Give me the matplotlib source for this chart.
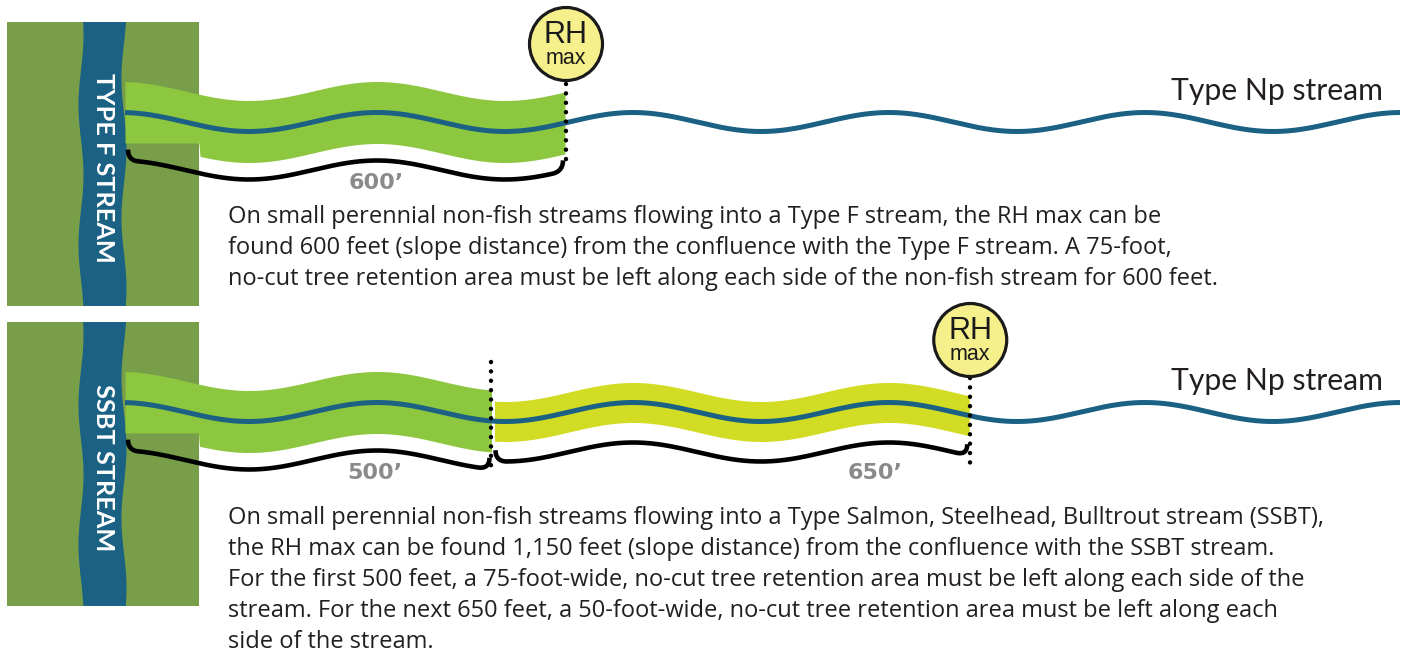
import numpy as np
import matplotlib.pyplot as plt
from matplotlib.patches import Circle, Polygon

# segment lengths in feet along the Np stream, per panel
seg_feet_f = [600]
seg_feet_ssbt = [500, 650]
seg_labels_f = ["600’"]
seg_labels_ssbt = ["500’", "650’"]
seg_colors_f = ["#8dc63f"]
seg_colors_ssbt = ["#8dc63f", "#d3dc24"]
seg_halfwidth_f = [31]
seg_halfwidth_ssbt = [31, 20]
# where the length label sits along each segment (fraction of its length)
label_frac_f = [0.57]
label_frac_ssbt = [0.68, 0.80]

side_labels = ["TYPE F STREAM", "SSBT STREAM"]
np_label = "Type Np stream"

para_f = [
    "On small perennial non-fish streams flowing into a Type F stream, the RH max can be",
    "found 600 feet (slope distance) from the confluence with the Type F stream. A 75-foot,",
    "no-cut tree retention area must be left along each side of the non-fish stream for 600 feet.",
]
para_ssbt = [
    "On small perennial non-fish streams flowing into a Type Salmon, Steelhead, Bulltrout stream (SSBT),",
    "the RH max can be found 1,150 feet (slope distance) from the confluence with the SSBT stream.",
    "For the first 500 feet, a 75-foot-wide, no-cut tree retention area must be left along each side of the",
    "stream. For the next 650 feet, a 50-foot-wide, no-cut tree retention area must be left along each",
    "side of the stream.",
]

BOX_GREEN = "#789e4a"
BLUE = "#1a6184"
X0 = 125          # confluence (pixel x)
PX_PER_FT = 0.735
WL, AMP, PHASE = 256, 9.5, 121


def wave(x, c):
    return c - AMP * np.cos(2 * np.pi * (x - PHASE) / WL)


def brace(ax, xa, xb, c, off, hook=11):
    # quadratic bezier hooks at both ends, wave in between
    t = np.linspace(0, 1, 20)
    xs_l = (1 - t) ** 2 * xa + 2 * t * (1 - t) * xa + t ** 2 * (xa + 11)
    ys_l = (1 - t) ** 2 * (wave(xa, c) + off - hook) + 2 * t * (1 - t) * (wave(xa, c) + off) + t ** 2 * (wave(xa + 11, c) + off)
    xm = np.linspace(xa + 11, xb - 11, 200)
    ym = wave(xm, c) + off
    xs_r = (1 - t) ** 2 * (xb - 11) + 2 * t * (1 - t) * xb + t ** 2 * xb
    ys_r = (1 - t) ** 2 * (wave(xb - 11, c) + off) + 2 * t * (1 - t) * (wave(xb, c) + off) + t ** 2 * (wave(xb, c) + off - hook)
    xs = np.concatenate([xs_l, xm, xs_r])
    ys = np.concatenate([ys_l, ym, ys_r])
    ax.plot(xs, ys, color="black", lw=3.3, solid_capstyle="butt", zorder=4)


def rh_circle(ax, x, y):
    ax.add_patch(Circle((x, y), 36.5, facecolor="#f6f08c", edgecolor="#1a1a1a", lw=2.3, zorder=6))
    ax.text(x, y - 9, "RH", ha="center", va="center", fontsize=22, family="Liberation Sans",
            color="#1a1a1a", zorder=7)
    ax.text(x, y + 15, "max", ha="center", va="center", fontsize=15.5, family="Liberation Sans",
            color="#1a1a1a", zorder=7)


def dotted(ax, x, y1, y2):
    ax.plot([x, x], [y1, y2], color="black", lw=3.2, linestyle=(0, (0.01, 2.1)),
            dash_capstyle="round", zorder=5)


def panel(ax, dy, feet, colors, halfw, labels, fracs, side_label, para, box_dy):
    c = 122 + dy
    # bank box and receiving stream
    ax.add_patch(Polygon([(7, 22 + box_dy), (199, 22 + box_dy), (199, 306 + box_dy), (7, 306 + box_dy)],
                         closed=True, facecolor=BOX_GREEN, edgecolor="none", zorder=1))
    yy = np.linspace(22 + box_dy, 306 + box_dy, 120)
    left = 81 + 2.5 * np.sin(2 * np.pi * (yy - box_dy) / 140)
    right = 124 + 2.5 * np.sin(2 * np.pi * (yy - box_dy) / 140 + 1.2)
    ax.add_patch(Polygon(np.column_stack([np.concatenate([left, right[::-1]]),
                                          np.concatenate([yy, yy[::-1]])]),
                         closed=True, facecolor=BLUE, edgecolor="none", zorder=2))
    ax.text(103, 168 + box_dy, side_label, rotation=-90, ha="center", va="center",
            fontsize=18.3, fontweight="bold", family="Lato", color="white", zorder=3)

    # buffer segments
    bounds = X0 + PX_PER_FT * np.concatenate([[0], np.cumsum(feet)])
    for i in range(len(feet)):
        xa, xb = bounds[i], bounds[i + 1]
        xs = np.linspace(xa + (2 if i else 0), xb - 1, 400)
        ys = wave(xs, c)
        lower = ys + halfw[i]
        # lower edge is hidden by the bank box
        lower = np.where(xs < 199, np.minimum(lower, c + 21), lower)
        ax.fill_between(xs, ys - halfw[i], lower, color=colors[i], lw=0, zorder=3)
        off = 48 if halfw[i] > 25 else 40
        brace(ax, xa + 3, xb - 3, c, off)
        ax.text(xa + fracs[i] * (xb - xa), c + 67, labels[i], ha="center", va="baseline",
                fontsize=16, fontweight="bold", family="DejaVu Sans", color="#8a8a8a", zorder=5)

    # Np stream centre line
    xl = np.linspace(X0, 1400, 800)
    ax.plot(xl, wave(xl, c), color=BLUE, lw=3.6, solid_capstyle="butt", zorder=4.5)
    ax.text(1383, c - 22, np_label, ha="right", va="baseline", fontsize=21.7, family="Lato",
            color="#231f20", zorder=5)

    # RH max marker and dividers
    for b in bounds[1:-1]:
        dotted(ax, b - 2, c - 50, c + 62)
    dotted(ax, bounds[-1], c - 38 + (0 if dy == 0 else 4), c + 45 + (0 if dy == 0 else 12))
    rh_circle(ax, bounds[-1], c - 78 + (0 if dy == 0 else 6))

    # description
    base = 223 + box_dy + (1 if dy else 0)
    for k, line in enumerate(para):
        ax.text(228, base + 31 * k, line, ha="left", va="baseline", fontsize=17, family="Open Sans",
                color="#231f20", zorder=5)


fig = plt.figure(figsize=(14.09, 6.54), dpi=100)
ax = fig.add_axes([0, 0, 1, 1])
ax.set_xlim(0, 1409)
ax.set_ylim(654, 0)
ax.axis("off")

panel(ax, 0, seg_feet_f, seg_colors_f, seg_halfwidth_f, seg_labels_f, label_frac_f,
      side_labels[0], para_f, 0)
panel(ax, 290, seg_feet_ssbt, seg_colors_ssbt, seg_halfwidth_ssbt, seg_labels_ssbt, label_frac_ssbt,
      side_labels[1], para_ssbt, 300)

fig.savefig("out.png", dpi=100)
